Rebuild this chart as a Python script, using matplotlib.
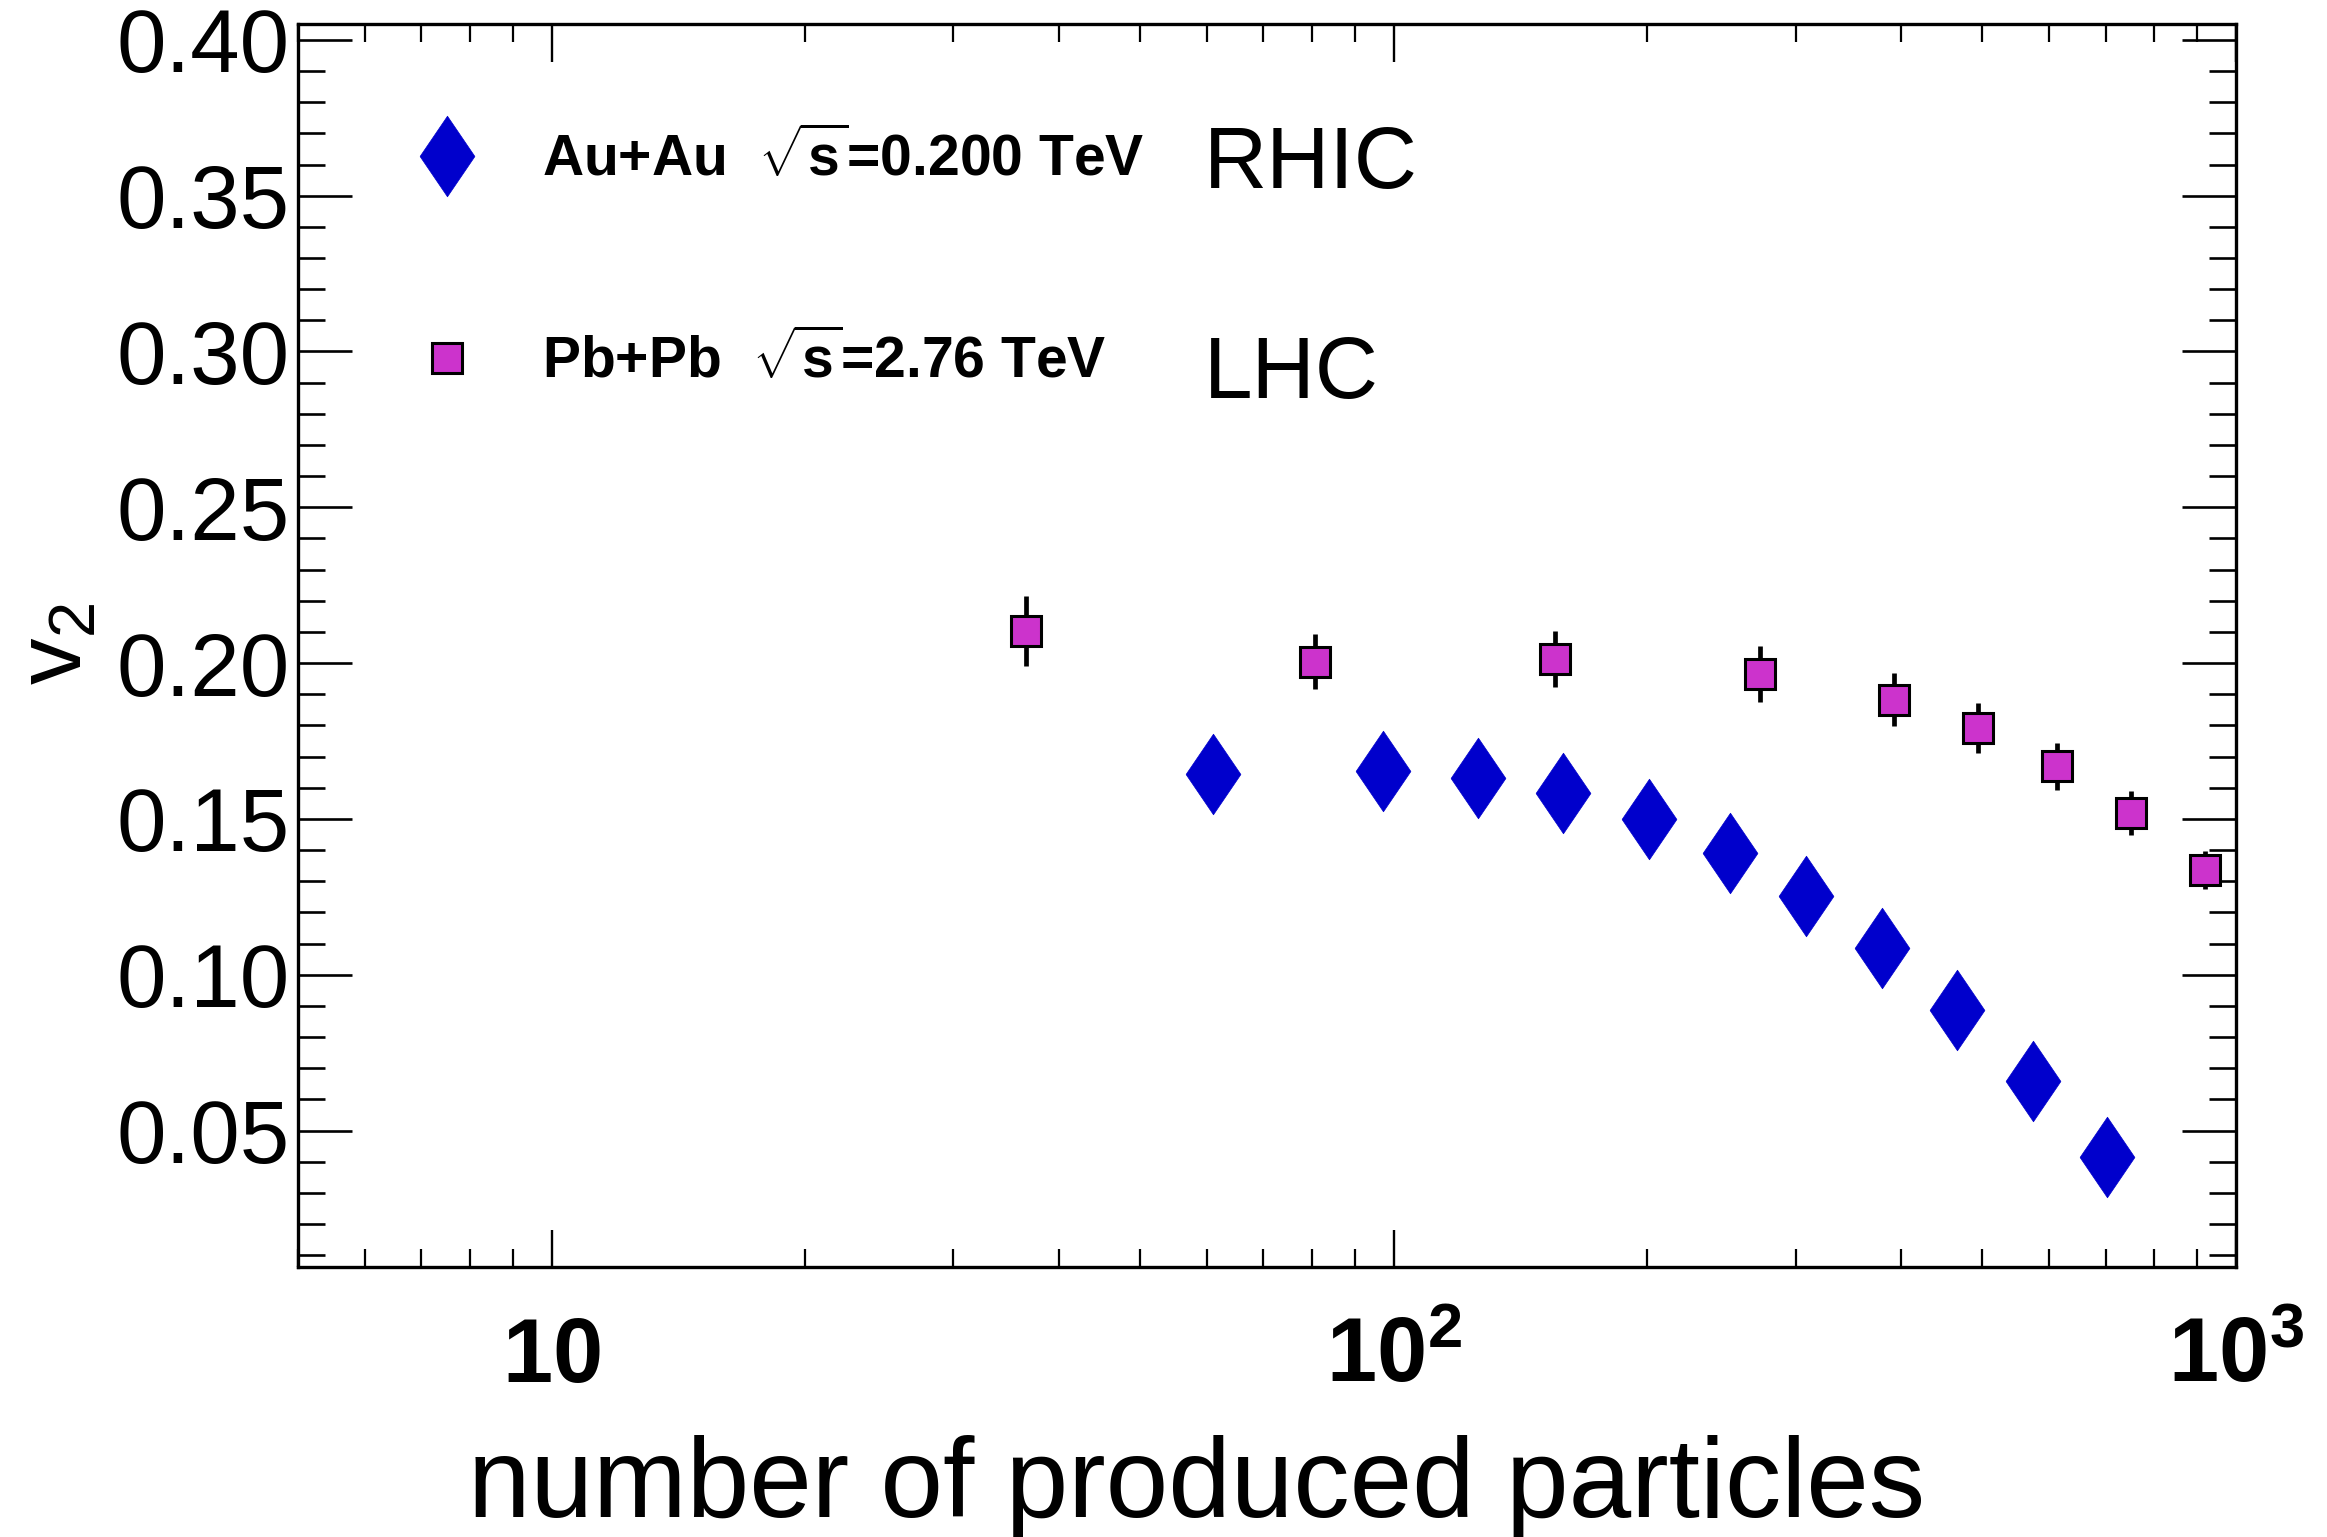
import matplotlib
matplotlib.use("Agg")
import matplotlib.pyplot as plt
from matplotlib import transforms
from matplotlib.ticker import FixedLocator, FormatStrFormatter, NullFormatter

# v2 vs number of produced particles
rhic_n = [61, 97, 126, 159, 201, 251, 309, 380, 467, 574, 702]
rhic_v2 = [0.1644, 0.1653, 0.1631, 0.1584, 0.1500, 0.1392, 0.1254, 0.1085, 0.0887, 0.0658, 0.0414]

lhc_n = [36.6, 80.6, 155.6, 272, 393, 494, 613, 751, 918]
lhc_v2 = [0.2102, 0.2005, 0.2012, 0.1965, 0.1882, 0.1793, 0.1669, 0.1520, 0.1337]
lhc_err = [0.0112, 0.0089, 0.0090, 0.0090, 0.0085, 0.0080, 0.0076, 0.0071, 0.0061]

rhic_label = r'Au+Au  $\mathbf{\sqrt{s}}$=0.200 TeV'
lhc_label = r'Pb+Pb  $\mathbf{\sqrt{s}}$=2.76 TeV'

y_ticks = [0.05, 0.10, 0.15, 0.20, 0.25, 0.30, 0.35, 0.40]
x_tick_vals = [10, 100, 1000]
x_tick_labels = [r'$\mathbf{10}$', r'$\mathbf{10^{2}}$', r'$\mathbf{10^{3}}$']

plt.rcParams['font.family'] = ['Liberation Sans', 'DejaVu Sans']
plt.rcParams['mathtext.fontset'] = 'custom'
plt.rcParams['mathtext.rm'] = 'Liberation Sans'
plt.rcParams['mathtext.bf'] = 'Liberation Sans:bold'
plt.rcParams['mathtext.it'] = 'Liberation Sans:italic'

W, H = 2327, 1537
fig = plt.figure(figsize=(W / 100, H / 100), dpi=100)
ax = fig.add_axes([298 / W, 1 - 1267 / H, (2236 - 298) / W, (1267 - 24) / H])

blue = '#0000CC'
magenta = '#CC33CC'

diamond = [(-0.68, 0), (0, 1), (0.68, 0), (0, -1), (-0.68, 0)]
h_rhic, = ax.plot(rhic_n, rhic_v2, linestyle='none', marker=diamond, ms=58,
                  color=blue, mec=blue, mew=0.5, zorder=3)
eb = ax.errorbar(lhc_n, lhc_v2, yerr=lhc_err, fmt='s', ms=21.5, mfc=magenta,
                 mec='black', mew=2.2, ecolor='black', elinewidth=3.4,
                 capsize=0, zorder=3)
h_lhc = eb[0]

ax.set_xscale('log')
ax.set_xlim(5, 1000)
ax.set_ylim(0.0062, 0.4051)

ax.yaxis.set_major_locator(FixedLocator(y_ticks))
ax.yaxis.set_major_formatter(FormatStrFormatter('%.2f'))
ax.yaxis.set_minor_locator(FixedLocator([i / 100 for i in range(1, 41)]))
ax.xaxis.set_major_locator(FixedLocator(x_tick_vals))
minors = [m * d for d in (1, 10, 100) for m in range(2, 10)]
ax.xaxis.set_minor_locator(FixedLocator(minors))
ax.xaxis.set_minor_formatter(NullFormatter())

ax.tick_params(axis='both', which='both', direction='in', top=True, right=True)
ax.tick_params(axis='y', which='major', length=39, width=1.9, pad=6, labelsize=64)
ax.tick_params(axis='y', which='minor', length=19.5, width=1.9)
ax.tick_params(axis='x', which='major', length=27, width=1.7, labelbottom=False)
ax.tick_params(axis='x', which='minor', length=13, width=1.6)
for s in ax.spines.values():
    s.set_linewidth(2.4)

# x tick labels (ROOT style, aligned on baseline)
trans = transforms.blended_transform_factory(ax.transData, ax.transAxes)
for xv, lab in zip(x_tick_vals, x_tick_labels):
    ax.text(xv, -0.0923, lab, transform=trans, ha='center', va='baseline',
            fontsize=65, clip_on=False)

ax.set_xlabel('number of produced particles', fontsize=81)
ax.xaxis.set_label_coords(0.4636, -0.2011)
ax.xaxis.label.set_va('baseline')

ax.set_ylabel(r'$\mathrm{v}_{2}$', fontsize=67)
ax.yaxis.set_label_coords(-0.1241, 0.5012)
ax.yaxis.label.set(ha='center', va='center', rotation_mode='default')

# legend entries
leg_kw = dict(loc='center left', frameon=False, borderpad=0, borderaxespad=0,
              handlelength=1.65, handletextpad=0.85, numpoints=1,
              prop={'weight': 'bold', 'size': 41})
leg1 = ax.legend([h_rhic], [rhic_label], bbox_to_anchor=(0.0526, 0.8914), **leg_kw)
ax.add_artist(leg1)
ax.legend([h_lhc], [lhc_label], bbox_to_anchor=(0.0526, 0.7289), **leg_kw)

ax.text(0.4675, 0.8683, 'RHIC', transform=ax.transAxes, fontsize=63, va='baseline')
ax.text(0.4675, 0.6989, 'LHC', transform=ax.transAxes, fontsize=63, va='baseline')

fig.savefig('out.png', dpi=100)
